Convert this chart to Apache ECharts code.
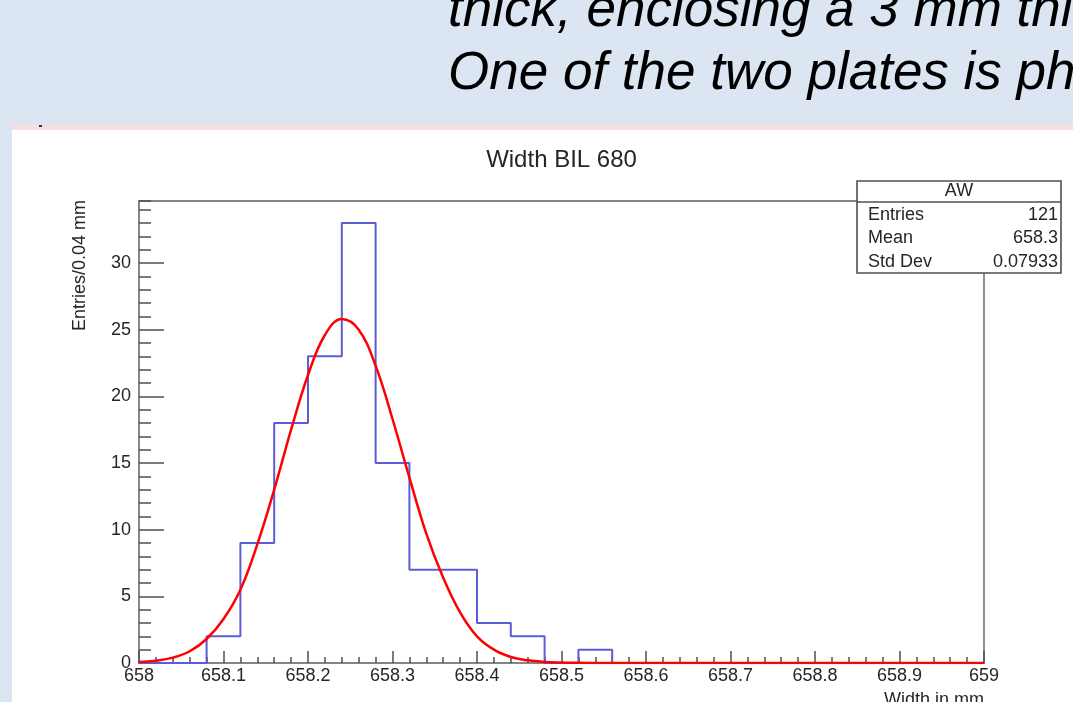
<!DOCTYPE html>
<html>
<head>
<meta charset="utf-8">
<title>Width BIL 680</title>
<script src="https://cdn.jsdelivr.net/npm/echarts@6/dist/echarts.min.js"></script>
<style>
  html, body { margin: 0; padding: 0; background: #dce6f2; }
  #chart { width: 1073px; height: 702px; }
</style>
</head>
<body>
<div id="chart"></div>
<script>
// histogram: 25 bins of 0.04 mm from 658 to 659
const binStart = 658;
const binWidth = 0.04;
const counts = [0, 0, 2, 9, 18, 23, 33, 15, 7, 7, 3, 2, 0, 1, 0, 0, 0, 0, 0, 0, 0, 0, 0, 0, 0];

// gaussian fit
const fitX = [658.00, 658.02, 658.04, 658.06, 658.08, 658.10, 658.12, 658.14, 658.16, 658.18,
              658.20, 658.22, 658.24, 658.26, 658.28, 658.30, 658.32, 658.34, 658.36, 658.38,
              658.40, 658.42, 658.44, 658.46, 658.48, 658.50, 658.52, 658.54, 658.56, 659.00];
const fitY = [0.07, 0.17, 0.40, 0.88, 1.8, 3.3, 5.5, 8.9, 13.0, 17.5,
              21.6, 24.6, 25.8, 25.0, 22.3, 18.3, 13.9, 9.7, 6.4, 3.8,
              2.0, 1.0, 0.45, 0.2, 0.08, 0.03, 0.01, 0, 0, 0];

// stats box
const statsTitle = 'AW';
const statNames = ['Entries', 'Mean', 'Std Dev'];
const statValues = ['121', '658.3', '0.07933'];

const slideLines = ['thick, enclosing a 3 mm thi', 'One of the two plates is ph'];

const FONT = '"Liberation Sans", Arial, Helvetica, sans-serif';
const AXIS_GRAY = '#858585';
const TICK_GRAY = '#505050';
const LABEL = '#262626';

// histogram points at bin low edges, step drawn horizontally first
const histData = counts.map((c, i) => [binStart + i * binWidth, c]);
histData.push([binStart + counts.length * binWidth, 0]);
const fitData = fitX.map((x, i) => [x, fitY[i]]);

const chart = echarts.init(document.getElementById('chart'));

const statsRows = [];
statNames.forEach((n, i) => {
  const y = 215 + i * 23.5;
  statsRows.push({
    type: 'text', z: 101, x: 868, y: y,
    style: { text: n, font: '18px ' + FONT, fill: LABEL, align: 'left', verticalAlign: 'middle' }
  });
  statsRows.push({
    type: 'text', z: 101, x: 1058, y: y,
    style: { text: statValues[i], font: '18px ' + FONT, fill: LABEL, align: 'right', verticalAlign: 'middle' }
  });
});

const option = {
  backgroundColor: '#dce6f2',
  animation: false,
  grid: {
    left: 139, right: 89, top: 201, bottom: 39,
    show: true,
    backgroundColor: 'rgba(0,0,0,0)',
    borderColor: AXIS_GRAY,
    borderWidth: 1.8
  },
  xAxis: {
    type: 'value',
    min: 658,
    max: 659,
    interval: 0.1,
    axisLine: { lineStyle: { color: AXIS_GRAY, width: 1.8 } },
    axisTick: { inside: true, length: 12, lineStyle: { color: TICK_GRAY, width: 1.5 } },
    minorTick: { show: true, splitNumber: 5, length: 6, lineStyle: { color: TICK_GRAY, width: 1.5 } },
    axisLabel: { color: LABEL, fontSize: 18, fontFamily: FONT, margin: 4 },
    splitLine: { show: false }
  },
  yAxis: [
    {
      type: 'value',
      position: 'left',
      min: 0,
      max: 34.65,
      interval: 5,
      axisLine: { show: true, lineStyle: { color: AXIS_GRAY, width: 1.8 } },
      axisTick: { show: true, inside: true, length: 25, lineStyle: { color: TICK_GRAY, width: 1.5 } },
      axisLabel: { color: LABEL, fontSize: 18, fontFamily: FONT, margin: 8, showMaxLabel: false },
      splitLine: { show: false }
    },
    {
      // minor ticks every entry
      type: 'value',
      position: 'left',
      min: 0,
      max: 34.65,
      interval: 1,
      axisLine: { show: false },
      axisTick: { show: true, inside: true, length: 12, lineStyle: { color: TICK_GRAY, width: 1.5 } },
      axisLabel: { show: false },
      splitLine: { show: false }
    }
  ],
  graphic: [
    // white pad area
    { type: 'rect', z: -10, shape: { x: 12, y: 128, width: 1061, height: 574 }, style: { fill: '#ffffff' } },
    { type: 'rect', z: -9, shape: { x: 12, y: 125, width: 1061, height: 5 }, style: { fill: '#fcdcdc' } },
    { type: 'rect', z: -8, shape: { x: 39, y: 125, width: 3, height: 2 }, style: { fill: '#333355' } },
    // slide text
    { type: 'text', z: -5, x: 448, y: 11,
      style: { text: slideLines[0], font: 'italic 53px ' + FONT, fill: '#000', align: 'left', verticalAlign: 'middle' } },
    { type: 'text', z: -5, x: 448, y: 74,
      style: { text: slideLines[1], font: 'italic 53px ' + FONT, fill: '#000', align: 'left', verticalAlign: 'middle' } },
    // histogram title
    { type: 'text', z: 50, x: 561.5, y: 160.5,
      style: { text: 'Width BIL 680', font: '24px ' + FONT, fill: LABEL, align: 'center', verticalAlign: 'middle' } },
    // axis titles
    { type: 'text', z: 50, x: 80, y: 200, rotation: Math.PI / 2,
      style: { text: 'Entries/0.04 mm', font: '18px ' + FONT, fill: LABEL, align: 'right', verticalAlign: 'middle' } },
    { type: 'text', z: 50, x: 984, y: 700,
      style: { text: 'Width in mm', font: '18px ' + FONT, fill: LABEL, align: 'right', verticalAlign: 'middle' } },
    // stats box
    { type: 'rect', z: 100, shape: { x: 857, y: 181, width: 204, height: 92 },
      style: { fill: '#ffffff', stroke: '#505050', lineWidth: 1.6 } },
    { type: 'line', z: 101, shape: { x1: 857, y1: 202, x2: 1061, y2: 202 },
      style: { stroke: '#505050', lineWidth: 1.6 } },
    { type: 'text', z: 101, x: 959, y: 191.5,
      style: { text: statsTitle, font: '18px ' + FONT, fill: LABEL, align: 'center', verticalAlign: 'middle' } }
  ].concat(statsRows),
  series: [
    {
      name: 'AW',
      type: 'line',
      step: 'end',
      data: histData,
      yAxisIndex: 0,
      symbol: 'none',
      lineStyle: { color: '#5c5cd8', width: 2 },
      z: 3
    },
    {
      name: 'fit',
      type: 'line',
      data: fitData,
      yAxisIndex: 0,
      smooth: 0.4,
      symbol: 'none',
      lineStyle: { color: '#ff0000', width: 2.5 },
      z: 4
    }
  ]
};

chart.setOption(option);
</script>
</body>
</html>
